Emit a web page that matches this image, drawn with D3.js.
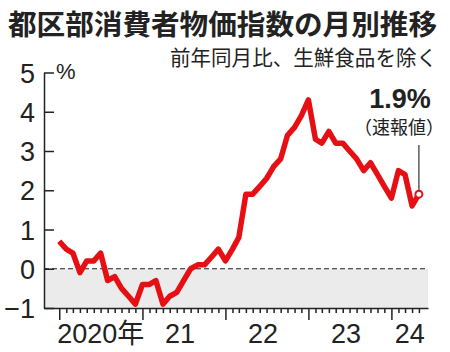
<!DOCTYPE html>
<html>
<head>
<meta charset="utf-8">
<script src="https://cdn.jsdelivr.net/npm/d3@7/dist/d3.min.js"></script>
<style>
  body { margin: 0; background: #fff; }
  text { font-family: "Noto Sans CJK JP", "Noto Sans", sans-serif; fill: #222; }
</style>
</head>
<body>
<div id="chart"></div>
<script>
// Tokyo core CPI, y/y %, excluding fresh food, Jan 2020 - May 2024
const startMonth = '2020-01';
const values = [
  0.7, 0.5, 0.4, -0.1, 0.2, 0.2, 0.4, -0.3, -0.2, -0.5, -0.7, -0.9,
  -0.4, -0.4, -0.3, -0.9, -0.7, -0.6, -0.3, 0.0, 0.1, 0.1, 0.3, 0.5,
  0.2, 0.5, 0.8, 1.9, 1.9, 2.1, 2.3, 2.6, 2.8, 3.4, 3.6, 3.9,
  4.3, 3.3, 3.2, 3.5, 3.2, 3.2, 3.0, 2.8, 2.5, 2.7, 2.4, 2.1,
  1.8, 2.5, 2.4, 1.6, 1.9
];
const yTicks = [-1, 0, 1, 2, 3, 4, 5];
const yearLabels = ['2020年', '21', '22', '23', '24'];
const years = [2020, 2021, 2022, 2023, 2024];

const title = '都区部消費者物価指数の月別推移';
const subtitle = '前年同月比、生鮮食品を除く';
const lastLabel = '1.9%';
const lastNote = '（速報値）';

const width = 450;
const height = 352;
const red = '#e50f14';

const parseMonth = d3.utcParse('%Y-%m');
const start = parseMonth(startMonth);
const data = values.map((v, i) => ({date: d3.utcMonth.offset(start, i), value: v}));

const xScale = d3.scaleUtc()
  .domain([new Date(Date.UTC(2019, 9, 26)), new Date(Date.UTC(2024, 5, 10))])
  .range([44, 428]);

const yScale = d3.scaleLinear()
  .domain([-1, 5])
  .range([308, 72.5]);

const svg = d3.select('#chart')
  .append('svg')
  .attr('width', width)
  .attr('height', height);

// Titles
svg.append('text')
  .attr('x', 8)
  .attr('y', 35)
  .attr('font-size', 28)
  .attr('font-weight', 'bold')
  .attr('textLength', 429)
  .attr('lengthAdjust', 'spacingAndGlyphs')
  .text(title);

svg.append('text')
  .attr('x', 437)
  .attr('y', 65)
  .attr('text-anchor', 'end')
  .attr('font-size', 21)
  .attr('textLength', 267)
  .attr('lengthAdjust', 'spacingAndGlyphs')
  .text(subtitle);

// Negative area
const [x0, x1] = xScale.range();
svg.append('rect')
  .attr('x', x0)
  .attr('y', yScale(0))
  .attr('width', x1 - x0)
  .attr('height', yScale(-1) - yScale(0))
  .attr('fill', '#ebebeb');

svg.append('line')
  .attr('x1', x0)
  .attr('x2', x1)
  .attr('y1', yScale(0))
  .attr('y2', yScale(0))
  .attr('stroke', '#222')
  .attr('stroke-width', 1.2)
  .attr('stroke-dasharray', '5,3');

// Y axis
const yAxis = d3.axisLeft(yScale)
  .tickValues(yTicks)
  .tickSizeInner(-10)
  .tickSizeOuter(0)
  .tickPadding(9)
  .tickFormat(d3.format('d'));

const gy = svg.append('g')
  .attr('transform', `translate(${x0}, 0)`)
  .call(yAxis);
gy.selectAll('path, line').attr('stroke', '#222').attr('stroke-width', 1.5);
gy.selectAll('text')
  .style('font-family', '"Liberation Sans", sans-serif')
  .attr('font-size', 27)
  .attr('dy', '0.36em')
  .attr('fill', '#222');

svg.append('text')
  .attr('x', 56)
  .attr('y', yScale(5) + 6)
  .attr('font-size', 22)
  .style('font-family', '"Liberation Sans", sans-serif')
  .text('%');

// X axis
const months = d3.utcMonth.range(new Date(Date.UTC(2020, 0, 1)), new Date(Date.UTC(2024, 5, 1)));
const xAxis = d3.axisBottom(xScale)
  .tickValues(months)
  .tickSizeInner(5)
  .tickSizeOuter(0)
  .tickFormat('');

const gx = svg.append('g')
  .attr('transform', `translate(0, ${yScale(-1)})`)
  .call(xAxis);
gx.selectAll('path, line').attr('stroke', '#222').attr('stroke-width', 1.5);
gx.selectAll('.tick line')
  .filter(d => d.getUTCMonth() === 0)
  .attr('y2', 12);

svg.append('g')
  .selectAll('text')
  .data(years)
  .enter()
  .append('text')
  .attr('x', (d, i) => {
    const a = xScale(new Date(Date.UTC(d, 0, 1)));
    const b = Math.min(xScale(new Date(Date.UTC(d + 1, 0, 1))), x1);
    return (a + b) / 2 - (i > 0 && i < years.length - 1 ? 4 : 0);
  })
  .attr('y', 343)
  .attr('text-anchor', 'middle')
  .attr('font-size', 27)
  .style('font-family', (d, i) => i === 0 ? '"Liberation Sans", "Noto Sans CJK JP", sans-serif' : '"Liberation Sans", sans-serif')
  .text((d, i) => yearLabels[i]);

// Line
const line = d3.line()
  .x(d => xScale(d.date))
  .y(d => yScale(d.value));

svg.append('path')
  .datum(data)
  .attr('d', line)
  .attr('fill', 'none')
  .attr('stroke', red)
  .attr('stroke-width', 5.5)
  .attr('stroke-linejoin', 'round');

// Last value marker and label
const last = data[data.length - 1];
const lx = xScale(last.date);
const ly = yScale(last.value);

svg.append('line')
  .attr('x1', lx)
  .attr('x2', lx)
  .attr('y1', 145)
  .attr('y2', ly - 3)
  .attr('stroke', '#333')
  .attr('stroke-width', 1.2);

svg.append('circle')
  .attr('cx', lx)
  .attr('cy', ly)
  .attr('r', 3.5)
  .attr('fill', '#fff')
  .attr('stroke', red)
  .attr('stroke-width', 2);

svg.append('text')
  .attr('x', 400)
  .attr('y', 108)
  .attr('text-anchor', 'middle')
  .attr('font-size', 27)
  .attr('font-weight', 'bold')
  .style('font-family', '"Liberation Sans", sans-serif')
  .text(lastLabel);

svg.append('text')
  .attr('x', 399)
  .attr('y', 134)
  .attr('text-anchor', 'middle')
  .attr('font-size', 18)
  .text(lastNote);
</script>
</body>
</html>
